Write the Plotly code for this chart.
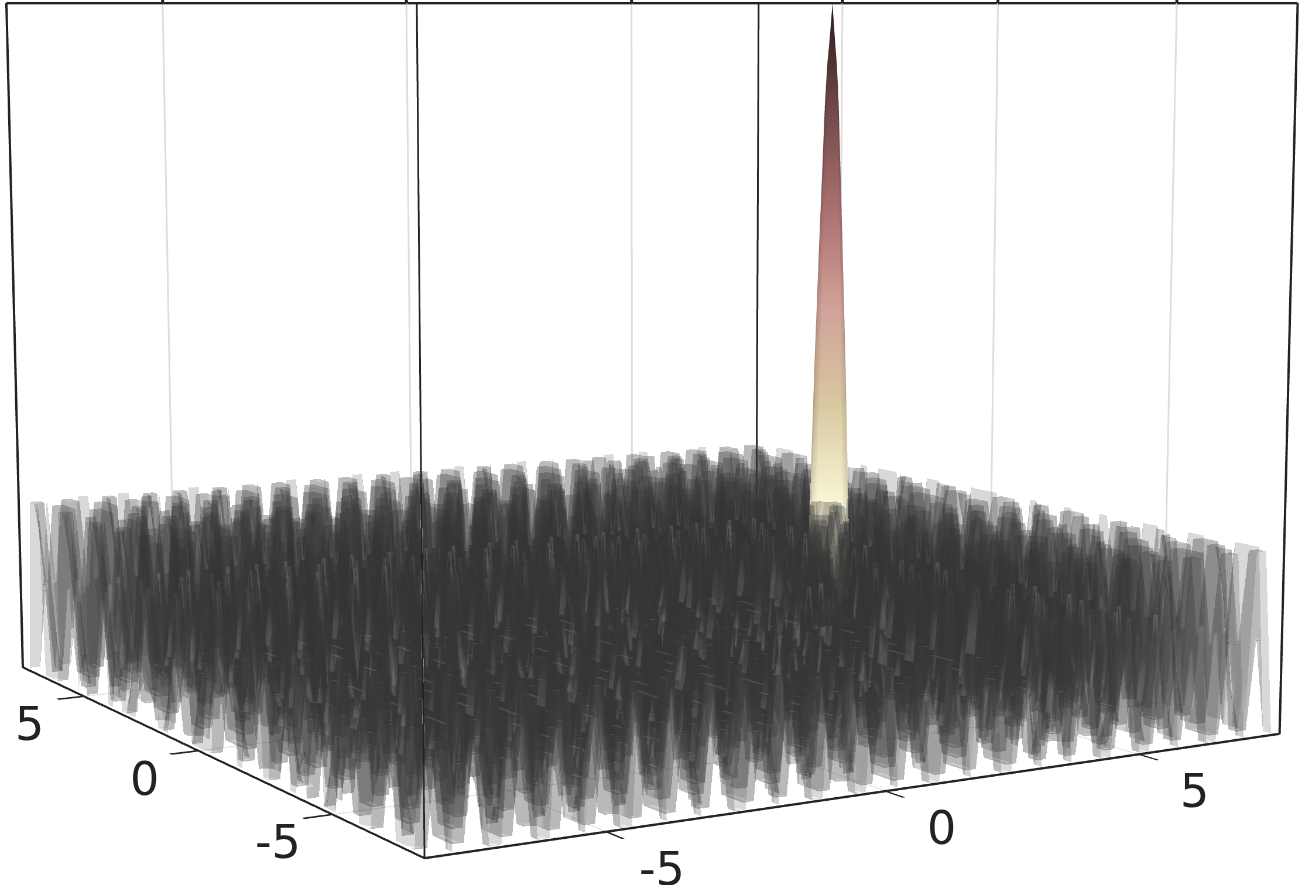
import plotly.graph_objects as go

x_ripple = [
    -7.9, -7.7, -7.5, -7.3, -7.1, -6.9, -6.7, -6.5, -6.3, -6.1, -5.9, -5.7, -5.5, -5.3, -5.1, -4.9, -4.7, -4.5, -4.3, -4.1,
    -3.9, -3.7, -3.5, -3.3, -3.1, -2.9, -2.7, -2.5, -2.3, -2.1, -1.9, -1.7, -1.5, -1.3, -1.1, -0.9, -0.7, -0.5, -0.3, -0.1,
    0.1, 0.3, 0.5, 0.7, 0.9, 1.1, 1.3, 1.5, 1.7, 1.9, 2.1, 2.3, 2.5, 2.7, 2.9, 3.1, 3.3, 3.5, 3.7, 3.9,
    4.1, 4.3, 4.5, 4.7, 4.9, 5.1, 5.3, 5.5, 5.7, 5.9, 6.1, 6.3, 6.5, 6.7, 6.9, 7.1, 7.3, 7.5, 7.7, 7.9,
]
y_ripple = list(x_ripple)

# one digit per grid point, looked up in ripple_levels
ripple_levels = [-1.0, -0.8, -0.55, -0.35, -0.1, 0.1, 0.35, 0.55, 0.8, 1.05]
H1 = "99099009 90099099 00990990 99009909 90099009 90990099 09900990 99099009 90099099 00990990"
L1 = "00900990 09900900 99009009 00990090 09900990 09009900 90099009 00900990 09900900 99009009"
H2 = "09900990 99009909 90099009 90990099 09909900 99009909 90099009 90099099 00990990 99009909"
L2 = "90099009 00990090 09900990 09009900 90090099 00990090 09900990 09900900 99009009 00990090"
S1 = "77277227 72277277 22772772 77227727 72277227 72772277 27722772 77277227 72277277 22772772"
S2 = "22722772 27722722 77227227 22772272 27722772 27227722 72277227 22722772 27722722 77227227"
ripple_rows = [
    H1, H1, L1, L1, H2, H2, L2, H1, H1, L1,
    L1, H2, S1, L2, L2, H2, H2, L1, H1, H1,
    L1, S2, H2, H2, L2, L2, H1, L1, L1, H1,
    H1, L2, H2, H2, L2, L2, H1, S1, L1, L1,
    H2, H2, L1, H1, H1, L2, L2, H2, L1, L1,
    H1, H1, L2, S2, H2, H2, L1, L1, H1, H2,
    H2, L2, L2, H1, H1, L1, S2, H2, L2, L2,
    H1, H1, L1, L1, H2, H2, L2, H1, H1, L1,
]
z_ripple = [[ripple_levels[int(c)] for c in row.replace(" ", "")] for row in ripple_rows]

# the peak: one quarter written out, mirrored across its centre lines
x_spike = [4.58, 4.64, 4.7, 4.76, 4.81, 4.87, 4.93, 4.98, 5.04, 5.1, 5.15, 5.21, 5.27, 5.32, 5.38, 5.44, 5.5]
y_spike = [0.54, 0.6, 0.66, 0.72, 0.77, 0.83, 0.89, 0.94, 1.0, 1.06, 1.11, 1.17, 1.23, 1.28, 1.34, 1.4, 1.46]
spike_quarter = [
    [7.0, 6.55, 6.0, 5.0, 3.9, 2.6, 1.2, 0.0, -0.5],
    [6.55, 6.3, 5.8, 4.8, 3.75, 2.5, 1.1, -0.05, -0.5],
    [6.0, 5.8, 5.2, 4.3, 3.3, 2.1, 0.8, -0.15, -0.5],
    [5.0, 4.8, 4.3, 3.6, 2.6, 1.5, 0.35, -0.35, -0.5],
    [3.9, 3.75, 3.3, 2.6, 1.75, 0.7, -0.1, -0.5, -0.5],
    [2.6, 2.5, 2.1, 1.5, 0.7, -0.05, -0.45, -0.5, -0.5],
    [1.2, 1.1, 0.8, 0.35, -0.1, -0.45, -0.5, -0.5, -0.5],
    [0.0, -0.05, -0.15, -0.35, -0.5, -0.5, -0.5, -0.5, -0.5],
    [-0.5, -0.5, -0.5, -0.5, -0.5, -0.5, -0.5, -0.5, -0.5],
]
half_rows = [row[:0:-1] + row for row in spike_quarter]
z_spike = half_rows[:0:-1] + half_rows

x_range = [-8, 8]
y_range = [-8, 8]
z_range = [-1, 7]
tick_vals = [-5, 0, 5]
tick_text = ["-5", "0", "5"]

spike_colors = [
    [0.0, "#555548"],
    [0.1, "#ffffe8"],
    [0.24, "#fbf8d8"],
    [0.4, "#d8c8a0"],
    [0.55, "#d0a098"],
    [0.7, "#a86e6e"],
    [0.85, "#6e4747"],
    [1.0, "#2a1a1a"],
]

floor_axis = dict(
    tickvals=tick_vals,
    showticklabels=False,
    ticks="outside",
    ticklen=20,
    tickwidth=5,
    tickcolor="#222222",
    showline=True,
    mirror="all",
    linecolor="#222222",
    linewidth=4,
    showgrid=True,
    gridcolor="#dddddd",
    gridwidth=3,
    zeroline=False,
    showbackground=False,
    showspikes=False,
    title=dict(text=""),
)

tick_font = dict(family="DejaVu Sans", size=46, color="#222222")
tick_labels = []
for val, text in zip(tick_vals, tick_text):
    tick_labels.append(dict(x=val, y=y_range[0], z=z_range[0], text=text, showarrow=False, font=tick_font, xshift=56, yshift=-37))
    tick_labels.append(dict(x=x_range[0], y=val, z=z_range[0], text=text, showarrow=False, font=tick_font, xshift=-54, yshift=-28))

fig = go.Figure([
    go.Surface(
        x=x_ripple,
        y=y_ripple,
        z=z_ripple,
        colorscale=[[0, "#404040"], [1, "#404040"]],
        opacity=0.19,
        showscale=False,
        lighting=dict(ambient=0.8, diffuse=0.5, specular=0.35, roughness=0.45),
    ),
    go.Surface(
        x=x_spike,
        y=y_spike,
        z=z_spike,
        colorscale=spike_colors,
        cmin=-1,
        cmax=7,
        showscale=False,
        lighting=dict(ambient=0.75, diffuse=0.5, specular=1.5, roughness=0.2),
        lightposition=dict(x=-1500, y=-3000, z=300),
    ),
    # plotly only draws two of the four upright box edges
    go.Scatter3d(
        x=[x_range[0], x_range[0]],
        y=[y_range[0], y_range[0]],
        z=z_range,
        mode="lines",
        line=dict(color="#222222", width=3),
        showlegend=False,
    ),
    go.Scatter3d(
        x=[x_range[1], x_range[1]],
        y=[y_range[1], y_range[1]],
        z=z_range,
        mode="lines",
        line=dict(color="#222222", width=3),
        showlegend=False,
    ),
])

# The picture has a long lens: draw on an oversized page and keep the middle in view
fig.update_layout(
    width=4090,
    height=2780,
    margin=dict(l=0, r=0, t=0, b=0),
    paper_bgcolor="white",
    scene=dict(
        domain=dict(x=[0, 1], y=[0, 1]),
        aspectmode="manual",
        aspectratio=dict(x=1, y=1.011, z=0.7559),
        xaxis=dict(floor_axis, range=x_range),
        yaxis=dict(floor_axis, range=y_range),
        zaxis=dict(
            range=z_range,
            tickvals=[],
            showticklabels=False,
            ticks="",
            showline=True,
            mirror="all",
            linecolor="#222222",
            linewidth=4,
            showgrid=False,
            zeroline=False,
            showbackground=False,
            showspikes=False,
            title=dict(text=""),
        ),
        annotations=tick_labels,
        camera=dict(
            eye=dict(x=-1.826, y=-3.114, z=0.378),
            center=dict(x=0.028, y=-0.0168, z=-0.095),
            up=dict(x=0, y=0, z=1),
        ),
    ),
)

fig.write_html(
    "out.html",
    post_script=(
        "document.body.style.overflow='hidden';"
        "var gd=document.getElementById('{plot_id}');"
        "gd.style.position='absolute';gd.style.left='-1394px';gd.style.top='-947px';"
    ),
)
